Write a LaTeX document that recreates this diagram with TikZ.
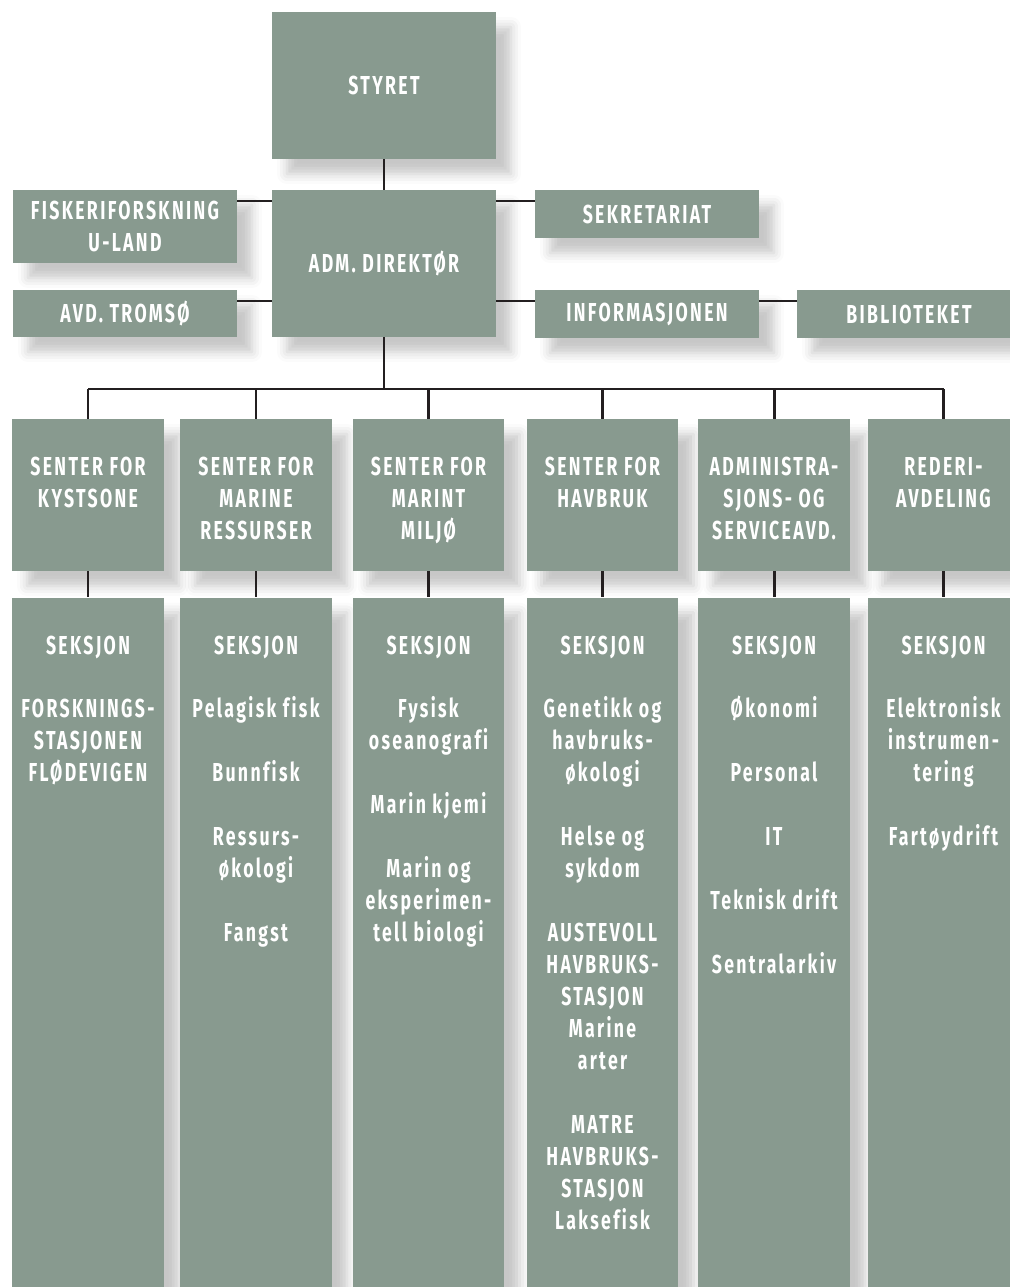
\documentclass[tikz,border=0pt]{standalone}
\usepackage{fontspec}
\setmainfont{Fira Sans}[FakeStretch=0.68,LetterSpace=9,Ligatures=NoCommon]
\usetikzlibrary{positioning,shadows.blur}

\definecolor{sage}{RGB}{136,154,143}
\definecolor{ink}{RGB}{35,31,32}

\tikzset{
    txt/.style={text=white, font=\bfseries\fontsize{14.8}{18.2}\selectfont, align=center, inner sep=0pt},
    unit/.style={txt, fill=sage, blur shadow={shadow xshift=0.3cm, shadow yshift=-0.3cm, shadow blur radius=0.2cm, shadow opacity=22}},
    wide/.style={unit, minimum width=4.48cm},
    col/.style={unit, minimum width=3.04cm},
    link/.style={ink, line width=1.7pt},
}

\begin{document}
\begin{tikzpicture}[x=0.02cm, y=-0.02cm]

    % the frame
    \useasboundingbox (0,0) rectangle (1010,1287);
    \coordinate (rowa) at (0,201);
    \coordinate (rowb) at (0,301);
    \coordinate (bus) at (0,389);

    % the top
    \node[wide, minimum height=2.94cm] (styret) at (384,85.5) {STYRET};
    \node[wide, minimum height=2.94cm] (adm) at (384,263.5) {ADM. DIREKTØR};
    \node[wide, minimum height=1.46cm] (uland) at (125,226.5) {FISKERIFORSKNING\\U-LAND};
    \node[wide, minimum height=0.94cm] (tromso) at (125,313.5) {AVD. TROMSØ};
    \node[wide, minimum height=0.96cm] (sekr) at (647,214) {SEKRETARIAT};
    \node[wide, minimum height=0.96cm] (info) at (647,314) {INFORMASJONEN};
    \node[wide, minimum height=0.96cm] (bibl) at (909,314) {BIBLIOTEKET};

    \draw[link] (styret.south) -- (adm.north);
    \draw[link] (uland.east |- rowa) -- (adm.west |- rowa);
    \draw[link] (tromso.east |- rowb) -- (adm.west |- rowb);
    \draw[link] (adm.east |- rowa) -- (sekr.west |- rowa);
    \draw[link] (adm.east |- rowb) -- (info.west |- rowb);
    \draw[link] (info.east |- rowb) -- (bibl.west |- rowb);

    % the centres
    \foreach \x/\n/\t in {88/1/{SENTER FOR\\KYSTSONE},
                          256/2/{SENTER FOR\\MARINE\\RESSURSER},
                          428.5/3/{SENTER FOR\\MARINT\\MILJØ},
                          602.5/4/{SENTER FOR\\HAVBRUK},
                          774/5/{ADMINISTRA-\\SJONS- OG\\SERVICEAVD.},
                          943.5/6/{REDERI-\\AVDELING}} {
        \node[col, minimum height=3.04cm] (senter\n) at (\x,495) {};
        \node[txt, below=0.76cm of senter\n.north] (senterhead\n) {\t};
        \draw[link] (senter\n.north) -- (senter\n.north |- bus);
    }
    \draw[link] (adm.south) -- (adm.south |- bus);
    \draw[link] (senter1.north |- bus) -- (senter6.north |- bus);

    % the sections
    \foreach \x/\n/\t in {88/1/{SEKSJON\\[18.2pt]FORSKNINGS-\\STASJONEN\\FLØDEVIGEN},
                          256/2/{SEKSJON\\[18.2pt]Pelagisk fisk\\[18.2pt]Bunnfisk\\[18.2pt]Ressurs-\\økologi\\[18.2pt]Fangst},
                          428.5/3/{SEKSJON\\[18.2pt]Fysisk\\oseanografi\\[18.2pt]Marin kjemi\\[18.2pt]Marin og\\eksperimen-\\tell biologi},
                          602.5/4/{SEKSJON\\[18.2pt]Genetikk og\\havbruks-\\økologi\\[18.2pt]Helse og\\sykdom\\[18.2pt]AUSTEVOLL\\HAVBRUKS-\\STASJON\\Marine\\arter\\[18.2pt]MATRE\\HAVBRUKS-\\STASJON\\Laksefisk},
                          774/5/{SEKSJON\\[18.2pt]Økonomi\\[18.2pt]Personal\\[18.2pt]IT\\[18.2pt]Teknisk drift\\[18.2pt]Sentralarkiv},
                          943.5/6/{SEKSJON\\[18.2pt]Elektronisk\\instrumen-\\tering\\[18.2pt]Fartøydrift}} {
        \node[col, minimum height=14.1cm] (seksjon\n) at (\x,950) {};
        \node[txt, below=0.76cm of seksjon\n.north] (seksjonhead\n) {\t};
        \draw[link] (senter\n.south) -- (seksjon\n.north);
    }
\end{tikzpicture}
\end{document}
